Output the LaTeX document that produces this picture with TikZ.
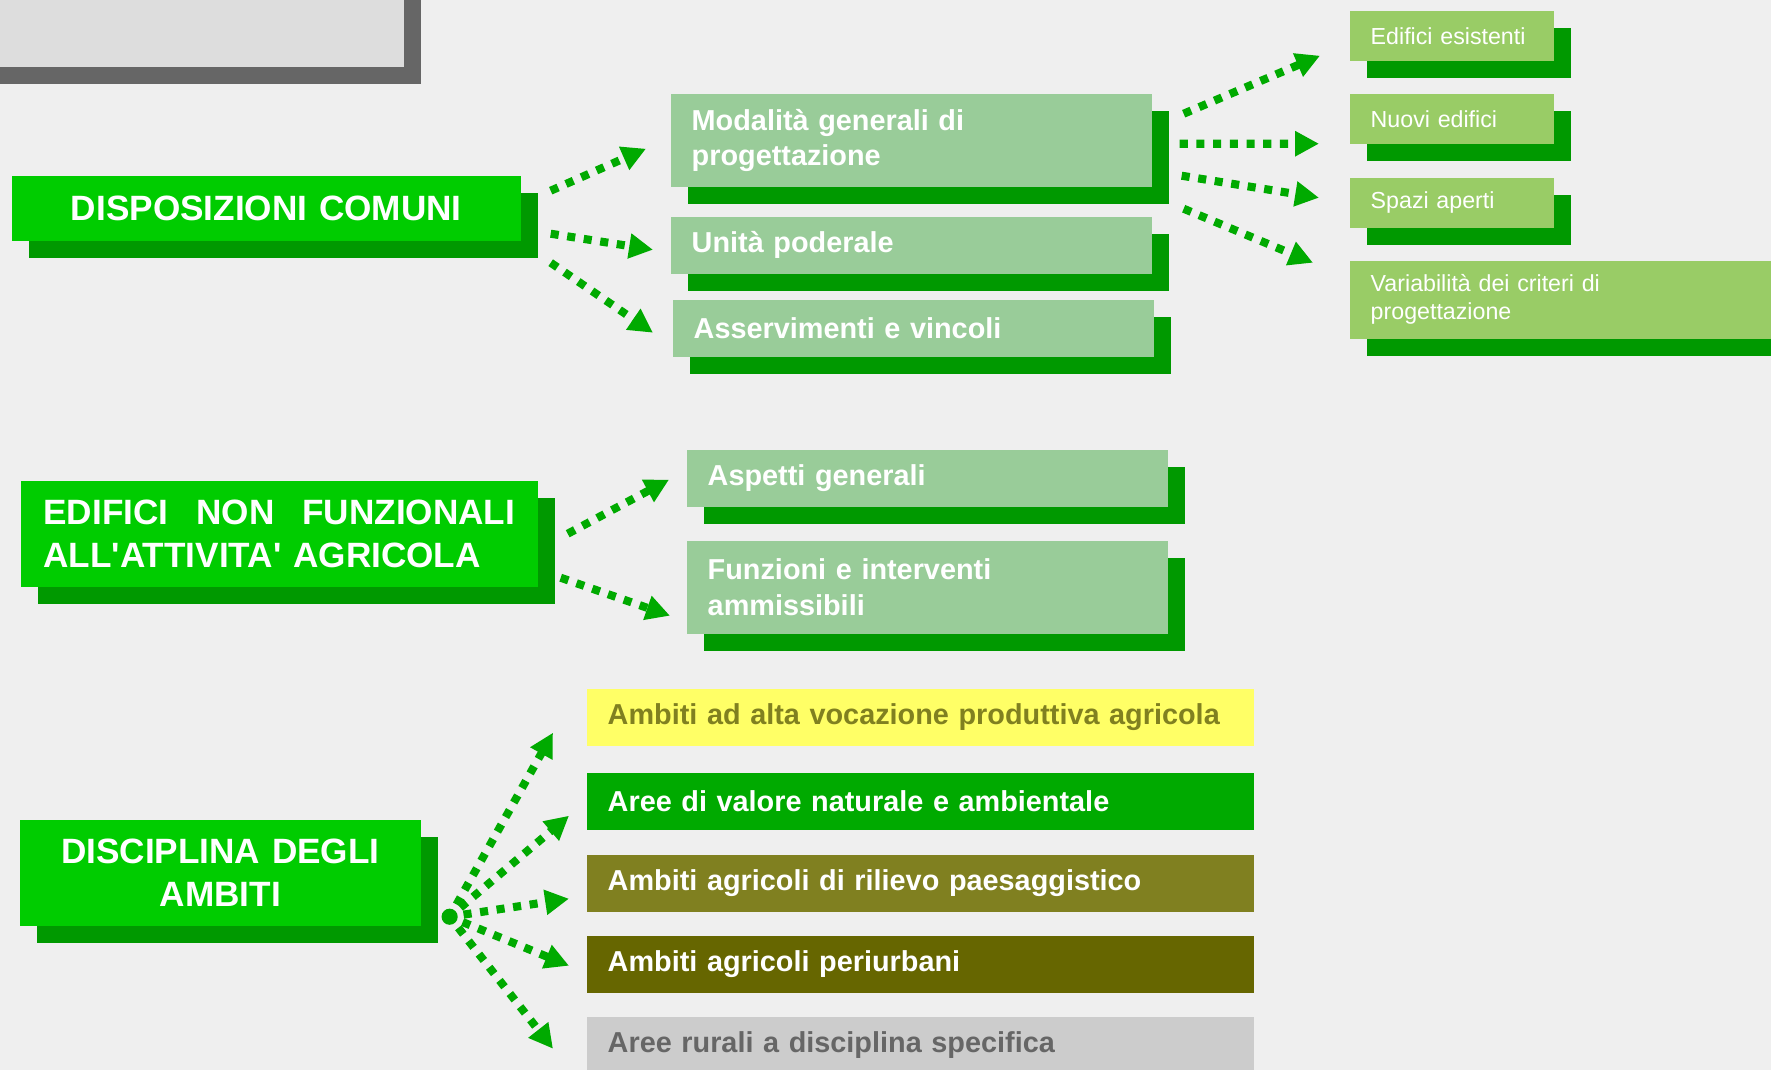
\documentclass[tikz,border=0pt]{standalone}
\usepackage{fontspec}
\setmainfont{Liberation Sans}
\usetikzlibrary{arrows.meta,shadows}

\definecolor{bgcol}{HTML}{EFEFEF}
\definecolor{titlegray}{HTML}{DDDDDD}
\definecolor{titleshade}{HTML}{666666}
\definecolor{headgreen}{HTML}{00CC00}
\definecolor{shadegreen}{HTML}{009900}
\definecolor{midgreen}{HTML}{99CC99}
\definecolor{leafgreen}{HTML}{99CC66}
\definecolor{flowgreen}{HTML}{00AA00}
\definecolor{ambyellow}{HTML}{FFFF66}
\definecolor{ambgreen}{HTML}{00AA00}
\definecolor{ambolive}{HTML}{808020}
\definecolor{ambdark}{HTML}{666600}
\definecolor{ambgray}{HTML}{CCCCCC}
\definecolor{textgray}{HTML}{666666}

\newcommand{\hdfont}{\fontsize{10}{12.2}\selectfont\bfseries}
\newcommand{\mdfont}{\fontsize{8.2}{10}\selectfont\bfseries}
\newcommand{\lffont}{\fontsize{6.6}{8}\selectfont}

\tikzset{
  boxshadow/.style={drop shadow={shadow xshift=0.17cm, shadow yshift=-0.17cm, fill=#1, opacity=1}},
  headbox/.style={fill=headgreen, text=white, font=\hdfont, inner sep=0pt, anchor=north west, boxshadow=shadegreen},
  midbox/.style={fill=midgreen, text=white, font=\mdfont, text width=4.39cm, inner xsep=0.21cm, inner ysep=0pt, align=left, anchor=north west, boxshadow=shadegreen},
  leafbox/.style={fill=leafgreen, text=white, font=\lffont, text width=1.62cm, inner xsep=0.21cm, inner ysep=0pt, align=left, anchor=north west, minimum height=0.5cm, boxshadow=shadegreen},
  ambbox/.style={font=\mdfont, text width=6.25cm, inner xsep=0.21cm, inner ysep=0pt, align=left, anchor=north west, minimum height=0.57cm},
  flow/.style={draw=flowgreen, line width=2.3pt, dash pattern=on 2.3pt off 2.45pt, -{Triangle[length=6.8pt,width=6.8pt]}}
}

\begin{document}
\begin{tikzpicture}[x=0.01cm, y=-0.01cm]
  \useasboundingbox (0,0) rectangle (1771,1070);
  \clip (0,0) rectangle (1771,1070);
  \fill[bgcol] (0,0) rectangle (1771,1070);

  % title panel
  \node[fill=titlegray, inner sep=0pt, anchor=north west, minimum width=4.33cm, minimum height=0.96cm, boxshadow=titleshade] (title) at (-30,-30) {};

  % main blocks
  \node[headbox, text width=5.09cm, minimum height=0.65cm, align=center] (disp) at (11,175) {DISPOSIZIONI COMUNI};
  \node[headbox, text width=4.715cm, inner xsep=0.2275cm, minimum height=1.06cm, align=left] (edif) at (20,480) {EDIFICI\hfill NON\hfill FUNZIONALI\\ALL\textquotesingle ATTIVITA\textquotesingle{} AGRICOLA};
  \node[headbox, text width=4.01cm, minimum height=1.06cm, align=center] (disc) at (19,819) {DISCIPLINA DEGLI\\AMBITI};

  % second level
  \node[midbox, minimum height=0.93cm] (moda) at (670,93) {Modalità generali di\\progettazione};
  \node[midbox, minimum height=0.57cm] (unit) at (670,216) {Unità poderale};
  \node[midbox, minimum height=0.57cm] (asse) at (672,299) {Asservimenti e vincoli};
  \node[midbox, minimum height=0.57cm] (aspe) at (686,449) {Aspetti generali};
  \node[midbox, minimum height=0.93cm] (funz) at (686,540) {Funzioni e interventi\\ammissibili};

  % third level
  \node[leafbox] (esis) at (1349,10) {Edifici esistenti};
  \node[leafbox] (nuov) at (1349,93) {Nuovi edifici};
  \node[leafbox] (spaz) at (1349,177) {Spazi aperti};
  \node[leafbox, text width=3.79cm, minimum height=0.78cm] (vari) at (1349,260) {Variabilità dei criteri di\\progettazione};

  % ambiti
  \node[ambbox, fill=ambyellow, text=ambolive] (amb1) at (586,688) {Ambiti ad alta vocazione produttiva agricola};
  \node[ambbox, fill=ambgreen, text=white] (amb2) at (586,772) {Aree di valore naturale e ambientale};
  \node[ambbox, fill=ambolive, text=white] (amb3) at (586,854) {Ambiti agricoli di rilievo paesaggistico};
  \node[ambbox, fill=ambdark, text=white] (amb4) at (586,935) {Ambiti agricoli periurbani};
  \node[ambbox, fill=ambgray, text=textgray] (amb5) at (586,1016) {Aree rurali a disciplina specifica};

  % arrows
  \draw[flow] ([shift={(29,-17.5)}]disp.east) -- ([shift={(-24,8.5)}]moda.west);
  \draw[flow] ([shift={(29,25.5)}]disp.east) -- ([shift={(-17,4.5)}]unit.west);
  \draw[flow] ([shift={(29,54.5)}]disp.east) -- ([shift={(-19,4.5)}]asse.west);

  \draw[flow] ([shift={(31,-26.5)}]moda.east) -- ([shift={(-29,20)}]esis.west);
  \draw[flow] ([shift={(27,3.5)}]moda.east) -- ([shift={(-30,25)}]nuov.west);
  \draw[flow] ([shift={(29,35.5)}]moda.east) -- ([shift={(-30,-5)}]spaz.west);
  \draw[flow] ([shift={(31,68.5)}]moda.east) -- ([shift={(-36,-37)}]vari.west);

  \draw[flow] ([shift={(29,0)}]edif.east) -- ([shift={(-17,1.5)}]aspe.west);
  \draw[flow] ([shift={(22,44)}]edif.east) -- ([shift={(-16,28.5)}]funz.west);

  % fan
  \coordinate (hub) at ([shift={(28,44)}]disc.east);
  \fill[flowgreen] (hub) circle[radius=2.3pt];
  \draw[flow, shorten <=4pt] (hub) -- ([shift={(-33,15.5)}]amb1.west);
  \draw[flow, shorten <=4pt] (hub) -- ([shift={(-17,14.5)}]amb2.west);
  \draw[flow, shorten <=4pt] (hub) -- ([shift={(-17,15.5)}]amb3.west);
  \draw[flow, shorten <=4pt] (hub) -- ([shift={(-17,1.5)}]amb4.west);
  \draw[flow, shorten <=4pt] (hub) -- ([shift={(-33,3.5)}]amb5.west);
\end{tikzpicture}
\end{document}
